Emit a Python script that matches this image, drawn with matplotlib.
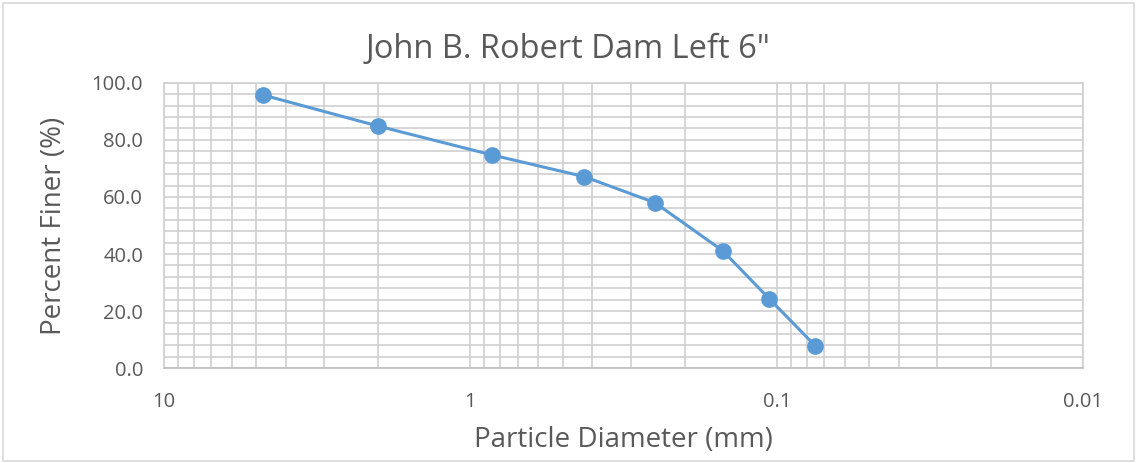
import matplotlib.pyplot as plt
from matplotlib.ticker import LogLocator, FixedLocator, NullFormatter, FuncFormatter
from matplotlib.patches import Rectangle

# sieve data
diameter_mm = [4.75, 2.0, 0.85, 0.425, 0.25, 0.15, 0.106, 0.075]
percent_finer = [95.7, 84.8, 74.7, 67.1, 58.0, 41.1, 24.4, 7.9]

x_major = [10, 1, 0.1, 0.01]
y_major = [0, 20, 40, 60, 80, 100]

title = 'John B. Robert Dam Left 6"'
xlabel = "Particle Diameter (mm)"
ylabel = "Percent Finer (%)"

plt.rcParams['font.family'] = ['Open Sans', 'DejaVu Sans']

fig = plt.figure(figsize=(11.37, 4.63), dpi=100)
ax = fig.add_axes([164 / 1137, 1 - 368.3 / 463, (1083.3 - 164) / 1137, (368.3 - 82.7) / 463])

ax.plot(diameter_mm, percent_finer, color="#5B9BD5", lw=2.2, marker="o",
        markersize=11, zorder=3, clip_on=False)

ax.set_xscale("log")
ax.set_xlim(10, 0.01)
ax.set_ylim(0, 100)

ax.xaxis.set_major_locator(FixedLocator(x_major))
ax.xaxis.set_minor_locator(LogLocator(base=10, subs=range(2, 10)))
ax.xaxis.set_minor_formatter(NullFormatter())
ax.xaxis.set_major_formatter(FuncFormatter(lambda v, p: f"{v:g}"))
ax.yaxis.set_major_locator(FixedLocator(y_major))
ax.yaxis.set_minor_locator(FixedLocator(range(0, 101, 4)))
ax.yaxis.set_major_formatter(FuncFormatter(lambda v, p: f"{v:.1f}"))

ax.grid(True, which="both", color="#d0d0d0", lw=1.2)
ax.set_axisbelow(True)
for s in ["left", "right", "top"]:
    ax.spines[s].set_color("#d0d0d0")
    ax.spines[s].set_linewidth(1.2)
ax.spines["bottom"].set_color("#bfbfbf")
ax.spines["bottom"].set_linewidth(1.2)

ax.tick_params(which="both", length=0, colors="#595959", labelsize=14.5)
ax.tick_params(axis="x", pad=17)
ax.tick_params(axis="y", pad=15)

# title centred on the whole chart, like Excel
fig.text(0.5, 1 - 58 / 463, title, fontsize=23.5, color="#595959",
         ha="center", va="baseline")
ax.set_xlabel(xlabel, fontsize=20, color="#595959", labelpad=10)
ax.set_ylabel(ylabel, fontsize=20, color="#595959", labelpad=17)

fig.patches.append(Rectangle((0.003, 0.004), 0.994, 0.99, transform=fig.transFigure,
                             fill=False, edgecolor="#d9d9d9", lw=1.2))

fig.savefig("out.png", dpi=100)
